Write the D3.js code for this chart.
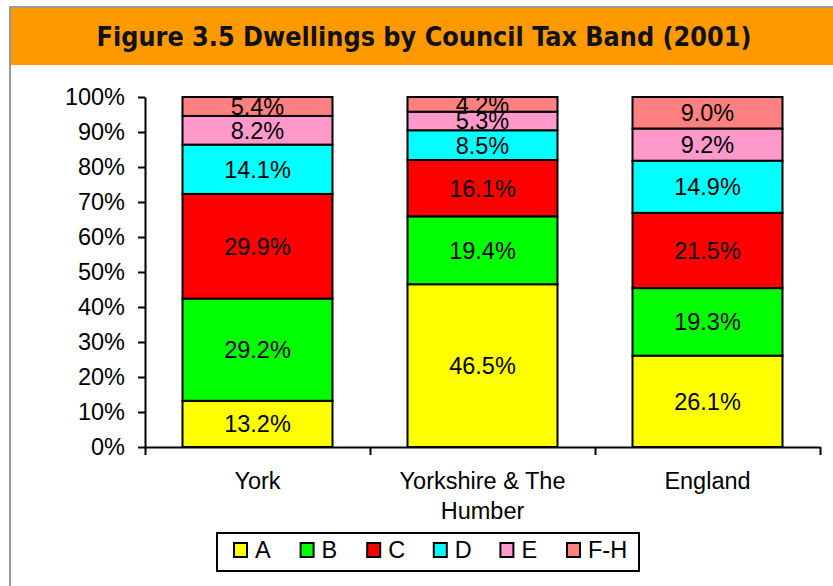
<!DOCTYPE html>
<html>
<head>
<meta charset="utf-8">
<script src="https://cdn.jsdelivr.net/npm/d3@7"></script>
<style>
  body { margin: 0; background: #fff; }
  svg { display: block; font-family: "Liberation Sans", Arial, sans-serif; }
</style>
</head>
<body>
<svg id="chart" width="833" height="586"></svg>
<script>
// data
const areas = ["York", "Yorkshire & The Humber", "England"];
const bands = ["A", "B", "C", "D", "E", "F-H"];
const bandColors = ["#ffff00", "#00ff00", "#ff0000", "#00ffff", "#ff99cc", "#ff8080"];
const york = [13.2, 29.2, 29.9, 14.1, 8.2, 5.4];
const yorkshire = [46.5, 19.4, 16.1, 8.5, 5.3, 4.2];
const england = [26.1, 19.3, 21.5, 14.9, 9.2, 9.0];
const yTicks = [0, 10, 20, 30, 40, 50, 60, 70, 80, 90, 100];

const seriesValues = [york, yorkshire, england];
const table = areas.map((a, i) => {
    const row = { area: a };
    bands.forEach((b, j) => row[b] = seriesValues[i][j]);
    return row;
});

const fs = 23.5;
const svg = d3.select("#chart");

// frame and header
svg.append("rect").attr("x", 10).attr("y", 7).attr("width", 840).attr("height", 600)
    .attr("fill", "#fff").attr("stroke", "#999").attr("stroke-width", 2);
svg.append("rect").attr("x", 11).attr("y", 8).attr("width", 822).attr("height", 57)
    .attr("fill", "#ff9900");
svg.append("text")
    .attr("x", 424).attr("y", 46)
    .attr("text-anchor", "middle")
    .attr("font-family", "'DejaVu Sans Condensed', 'DejaVu Sans', sans-serif")
    .attr("font-weight", "bold")
    .attr("font-size", 26)
    .attr("fill", "#111")
    .attr("textLength", 655)
    .attr("lengthAdjust", "spacingAndGlyphs")
    .text("Figure 3.5 Dwellings by Council Tax Band (2001)");

const plotLeft = 145, plotRight = 820, plotTop = 97, plotBottom = 447;

const x = d3.scaleBand()
    .domain(areas)
    .range([plotLeft, plotRight])
    .paddingInner(1 / 3)
    .paddingOuter(1 / 6);

const y = d3.scaleLinear()
    .domain([0, 100])
    .range([plotBottom, plotTop]);

const stacked = d3.stack().keys(bands)(table);
const color = d3.scaleOrdinal().domain(bands).range(bandColors);

const g = svg.append("g");

const layers = g.selectAll("g.layer")
    .data(stacked)
    .enter()
    .append("g")
    .attr("class", "layer")
    .attr("fill", d => color(d.key));

layers.selectAll("rect")
    .data(d => d)
    .enter()
    .append("rect")
    .attr("x", d => x(d.data.area))
    .attr("width", x.bandwidth())
    .attr("y", d => y(d[1]))
    .attr("height", d => y(d[0]) - y(d[1]))
    .attr("stroke", "#000")
    .attr("stroke-width", 2);

layers.selectAll("text")
    .data(d => d)
    .enter()
    .append("text")
    .attr("x", d => x(d.data.area) + x.bandwidth() / 2)
    .attr("y", d => (y(d[0]) + y(d[1])) / 2)
    .attr("dy", "0.36em")
    .attr("text-anchor", "middle")
    .attr("font-size", fs)
    .attr("fill", "#000")
    .text(d => (d[1] - d[0]).toFixed(1) + "%");

// y axis
const yAxis = g.append("g")
    .attr("transform", `translate(${plotLeft},0)`)
    .call(d3.axisLeft(y).tickValues(yTicks).tickFormat(d => d + "%").tickSize(7).tickSizeOuter(0).tickPadding(13));
yAxis.selectAll("text").attr("font-size", fs).attr("fill", "#000").attr("font-family", "'Liberation Sans', Arial, sans-serif");
yAxis.selectAll("line, path").attr("stroke", "#000").attr("stroke-width", 2);

// x axis with ticks between categories
const xEdges = d3.scaleLinear().domain([0, areas.length]).range([plotLeft, plotRight]);
const xAxis = g.append("g")
    .attr("transform", `translate(0,${plotBottom})`)
    .call(d3.axisBottom(xEdges).tickValues(d3.range(areas.length + 1)).tickFormat("").tickSize(8).tickSizeOuter(0));
xAxis.selectAll("line, path").attr("stroke", "#000").attr("stroke-width", 2);

const xLabels = g.append("g")
    .selectAll("text")
    .data(areas)
    .enter()
    .append("text")
    .attr("x", d => x(d) + x.bandwidth() / 2)
    .attr("y", 489)
    .attr("text-anchor", "middle")
    .attr("font-size", fs)
    .attr("fill", "#000");

xLabels.each(function (d) {
    const lines = d === "Yorkshire & The Humber" ? ["Yorkshire & The", "Humber"] : [d];
    const t = d3.select(this);
    lines.forEach((l, i) => {
        t.append("tspan").attr("x", x(d) + x.bandwidth() / 2).attr("dy", i === 0 ? 0 : 30).text(l);
    });
});

// legend
const legend = svg.append("g").attr("transform", "translate(217,533)");
legend.append("rect").attr("width", 422).attr("height", 38)
    .attr("fill", "#fff").attr("stroke", "#000").attr("stroke-width", 2);
const item = legend.selectAll("g.item")
    .data(bands)
    .enter()
    .append("g")
    .attr("class", "item")
    .attr("transform", (d, i) => `translate(${17 + i * 66.6},10)`);
item.append("rect")
    .attr("width", 13).attr("height", 14)
    .attr("fill", d => color(d))
    .attr("stroke", "#000").attr("stroke-width", 2);
item.append("text")
    .attr("x", 21).attr("y", 7).attr("dy", "0.36em")
    .attr("font-size", fs)
    .attr("fill", "#000")
    .text(d => d);
</script>
</body>
</html>
